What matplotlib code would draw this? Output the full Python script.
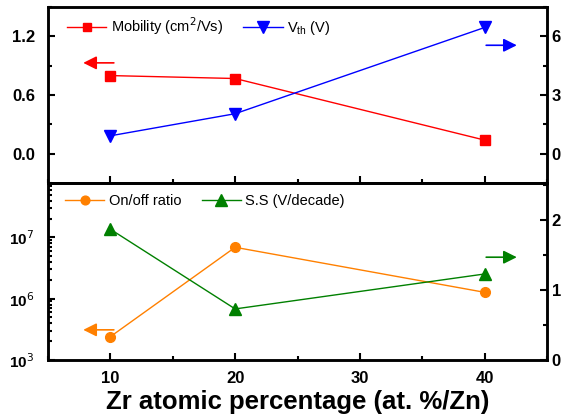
"""
Mobility / Vth and on-off ratio / S.S vs Zr content
"""

import matplotlib
matplotlib.use('Agg')
import matplotlib.pyplot as plt
from matplotlib.ticker import FixedLocator, FixedFormatter, MultipleLocator, LogLocator, NullFormatter

plt.rcParams['font.family'] = ['Liberation Sans', 'DejaVu Sans']

# Data
zr = [10, 20, 40]
mobility = [0.80, 0.77, 0.14]      # cm2/Vs
vth = [0.92, 2.05, 6.46]           # V
onoff = [2.4e5, 6.9e6, 1.27e6]
ss = [1.87, 0.73, 1.23]            # V/decade

fig = plt.figure(figsize=(5.63, 4.2), dpi=100)
ax1 = fig.add_axes([0.0853, 0.564, 0.8863, 0.419])
ax3 = fig.add_axes([0.0853, 0.143, 0.8863, 0.421])
ax2 = ax1.twinx()
ax4 = ax3.twinx()

leg_kw = dict(loc='center left', ncol=2, frameon=False, fontsize=10.5, handlelength=2.7,
              handletextpad=0.3, columnspacing=1.4, borderaxespad=0, markerscale=0.9)

# Top panel
l1, = ax1.plot(zr, mobility, color='red', lw=1, marker='s', ms=7, label='Mobility (cm$^2$/Vs)')
l2, = ax2.plot(zr, vth, color='blue', lw=1, marker='v', ms=9, label='V$_{\\mathregular{th}}$ (V)')
ax1.set_ylim(-0.3, 1.5)
ax2.set_ylim(-1.5, 7.5)
ax1.yaxis.set_major_locator(MultipleLocator(0.6))
ax1.yaxis.set_minor_locator(MultipleLocator(0.3))
ax2.yaxis.set_major_locator(MultipleLocator(3))
ax2.yaxis.set_minor_locator(MultipleLocator(1.5))
ax1.yaxis.set_major_formatter(plt.FuncFormatter(lambda v, p: f'{v:.1f}'))
ax2.yaxis.set_major_formatter(plt.FuncFormatter(lambda v, p: f'{v:.0f}'))
ax1.legend(handles=[l1, l2], bbox_to_anchor=(0.026, 0.892), **leg_kw)

# Bottom panel
l3, = ax3.plot(zr, onoff, color='#ff8000', lw=1, marker='o', ms=7, label='On/off ratio')
l4, = ax4.plot(zr, ss, color='green', lw=1, marker='^', ms=9, label='S.S (V/decade)')
ax3.set_yscale('log')
ax3.set_ylim(1e5, 7.7e7)
ax3.yaxis.set_major_locator(FixedLocator([1e5, 1e6, 1e7]))
ax3.yaxis.set_major_formatter(FixedFormatter(['10$^3$', '10$^6$', '10$^7$']))
ax3.yaxis.set_minor_locator(LogLocator(base=10, subs=range(2, 10)))
ax3.yaxis.set_minor_formatter(NullFormatter())
ax4.set_ylim(0, 2.53)
ax4.yaxis.set_major_locator(MultipleLocator(1))
ax4.yaxis.set_minor_locator(MultipleLocator(0.5))
ax3.legend(handles=[l3, l4], bbox_to_anchor=(0.022, 0.898), **leg_kw)

for ax in (ax1, ax3):
    ax.set_xlim(5, 45)
    ax.xaxis.set_major_locator(MultipleLocator(10))
    ax.xaxis.set_minor_locator(MultipleLocator(5))
ax1.tick_params(axis='x', labelbottom=False)
ax3.set_xlabel('Zr atomic percentage (at. %/Zn)', fontsize=18.5, fontweight='bold', labelpad=3)

for ax in (ax1, ax2, ax3, ax4):
    ax.tick_params(which='both', direction='in', width=1.5, top=False)
    ax.tick_params(which='major', length=5, labelsize=12)
    ax.tick_params(which='minor', length=3)
    for lab in ax.get_xticklabels() + ax.get_yticklabels():
        lab.set_fontweight('bold')
    for sp in ax.spines.values():
        sp.set_linewidth(1.8)
ax3.tick_params(axis='x', pad=8)
ax1.tick_params(axis='y', pad=9)
ax3.tick_params(axis='y', pad=10, labelsize=11)

# direction arrows
arrow = dict(arrowstyle='-|>', lw=1.2, mutation_scale=20)
ax1.annotate('', xy=(7.6, 0.93), xytext=(10.5, 0.93), arrowprops=dict(arrow, color='red'))
ax2.annotate('', xy=(42.8, 5.55), xytext=(39.9, 5.55), arrowprops=dict(arrow, color='blue'))
ax3.annotate('', xy=(7.6, 3.1e5), xytext=(10.5, 3.1e5), arrowprops=dict(arrow, color='#ff8000'))
ax4.annotate('', xy=(42.8, 1.47), xytext=(39.9, 1.47), arrowprops=dict(arrow, color='green'))

fig.savefig('out.png', dpi=100)
